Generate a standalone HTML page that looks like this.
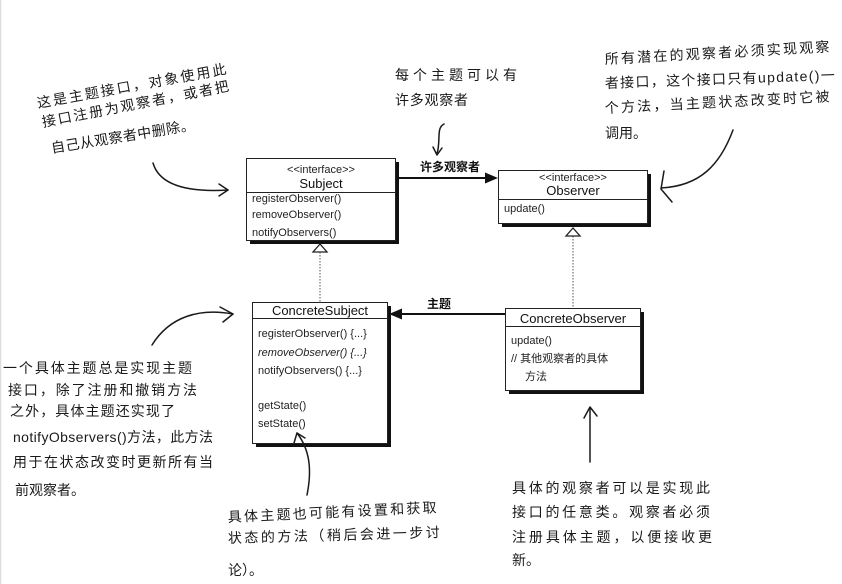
<!DOCTYPE html>
<html><head><meta charset="utf-8">
<style>
html,body{margin:0;padding:0;background:#fff;}
body{width:842px;height:584px;overflow:hidden;position:relative;}
svg{position:absolute;left:0;top:0;}
.u{font-family:"Liberation Sans","Noto Sans CJK SC",sans-serif;font-size:11px;fill:#222;}
.h{font-family:"Liberation Sans","Noto Sans CJK SC",sans-serif;font-size:13px;fill:#111;}
.hw{font-family:"Liberation Sans","WenQuanYi Zen Hei","Noto Sans CJK SC",sans-serif;font-size:14px;fill:#1a1a1a;}
.lb{font-family:"Liberation Sans","Noto Sans CJK SC",sans-serif;font-size:12px;font-weight:bold;fill:#111;}
.ln{fill:none;stroke:#1a1a1a;stroke-width:1.5;stroke-linecap:round;stroke-linejoin:round;}
</style></head>
<body>
<svg width="842" height="584" viewBox="0 0 842 584" xmlns="http://www.w3.org/2000/svg">
<line x1="0.5" y1="0" x2="0.5" y2="584" stroke="#ddd" stroke-width="1.5"/>

<!-- Subject -->
<rect x="250" y="162" width="149" height="82" fill="#111"/>
<rect x="246.5" y="158.5" width="149" height="82" fill="#fff" stroke="#222" stroke-width="1"/>
<line x1="246.5" y1="192.5" x2="395.5" y2="192.5" stroke="#222"/>
<text class="u" x="321" y="173" text-anchor="middle" font-size="10">&lt;&lt;interface&gt;&gt;</text>
<text class="h" x="321" y="188" text-anchor="middle">Subject</text>
<text class="u" x="252" y="202">registerObserver()</text>
<text class="u" x="252" y="218">removeObserver()</text>
<text class="u" x="252" y="236">notifyObservers()</text>

<!-- Observer -->
<rect x="502" y="174" width="149" height="53" fill="#111"/>
<rect x="498.5" y="170.5" width="149" height="53" fill="#fff" stroke="#222" stroke-width="1"/>
<line x1="498.5" y1="199.5" x2="647.5" y2="199.5" stroke="#222"/>
<text class="u" x="573" y="181" text-anchor="middle" font-size="10">&lt;&lt;interface&gt;&gt;</text>
<text class="h" x="573" y="195" text-anchor="middle">Observer</text>
<text class="u" x="504" y="212">update()</text>

<!-- ConcreteSubject -->
<rect x="256" y="306" width="135" height="141" fill="#111"/>
<rect x="252.5" y="302.5" width="135" height="141" fill="#fff" stroke="#222" stroke-width="1"/>
<line x1="252.5" y1="318.5" x2="387.5" y2="318.5" stroke="#222"/>
<text class="h" x="320" y="315" text-anchor="middle" font-size="12">ConcreteSubject</text>
<text class="u" x="258" y="337">registerObserver() {...}</text>
<text class="u" x="258" y="356" font-style="italic">removeObserver() {...}</text>
<text class="u" x="258" y="374">notifyObservers() {...}</text>
<text class="u" x="258" y="409">getState()</text>
<text class="u" x="258" y="427">setState()</text>

<!-- ConcreteObserver -->
<rect x="509" y="312" width="135" height="82" fill="#111"/>
<rect x="505.5" y="308.5" width="135" height="82" fill="#fff" stroke="#222" stroke-width="1"/>
<line x1="505.5" y1="326.5" x2="640.5" y2="326.5" stroke="#222"/>
<text class="h" x="573" y="323" text-anchor="middle" font-size="12">ConcreteObserver</text>
<text class="u" x="511" y="344">update()</text>
<text class="u" x="511" y="362">// 其他观察者的具体</text>
<text class="u" x="525" y="380">方法</text>

<!-- associations -->
<line x1="396" y1="178" x2="488" y2="178" stroke="#111" stroke-width="2"/>
<polygon points="498,178 485,172.5 485,183.5" fill="#111"/>
<text class="lb" x="420" y="171">许多观察者</text>

<line x1="505" y1="314" x2="398" y2="314" stroke="#111" stroke-width="2"/>
<polygon points="389,314 402,308.5 402,319.5" fill="#111"/>
<text class="lb" x="427" y="308">主题</text>

<!-- realizations -->
<line x1="320" y1="252" x2="320" y2="302" stroke="#555" stroke-width="1" stroke-dasharray="1.5,1.5"/>
<polygon points="320,244 313,252 327,252" fill="#fff" stroke="#222" stroke-width="1.3"/>
<line x1="573" y1="236" x2="573" y2="308" stroke="#555" stroke-width="1" stroke-dasharray="1.5,1.5"/>
<polygon points="573,228 566,236 580,236" fill="#fff" stroke="#222" stroke-width="1.3"/>

<!-- annotation 1 -->
<text class="hw" transform="rotate(-10.3 38 108)" x="38" y="108" textLength="192" lengthAdjust="spacing">这是主题接口，对象使用此</text>
<text class="hw" transform="rotate(-11 43 127)" x="43" y="127" textLength="190" lengthAdjust="spacing">接口注册为观察者，或者把</text>
<text class="hw" transform="rotate(-9.3 52 153)" x="52" y="153" textLength="145" lengthAdjust="spacing">自己从观察者中删除。</text>
<path class="ln" d="M153,163 Q162,194 228,190"/>
<path class="ln" d="M219,184 L228,190 L219,196"/>

<!-- annotation 2 -->
<text class="hw" x="395" y="80" textLength="122" lengthAdjust="spacing">每个主题可以有</text>
<text class="hw" x="395" y="105" textLength="73" lengthAdjust="spacing">许多观察者</text>
<path class="ln" d="M444,124 C436,128 441,140 437,154"/>
<path class="ln" d="M433,147 L437,155 L442,148"/>

<!-- annotation 3 -->
<text class="hw" transform="rotate(-3.2 605 64)" x="605" y="64" textLength="225" lengthAdjust="spacing">所有潜在的观察者必须实现观察</text>
<text class="hw" transform="rotate(-2 605 88)" x="605" y="88" textLength="230" lengthAdjust="spacing">者接口，这个接口只有update()一</text>
<text class="hw" transform="rotate(-3 605 113)" x="605" y="113" textLength="225" lengthAdjust="spacing">个方法，当主题状态改变时它被</text>
<text class="hw" x="605" y="138">调用。</text>
<path class="ln" d="M733,130 C720,165 700,186 661,188"/>
<path class="ln" d="M664,171 L661,189 L672,202"/>

<!-- annotation 4 -->
<text class="hw" x="3" y="373" textLength="189" lengthAdjust="spacing">一个具体主题总是实现主题</text>
<text class="hw" x="8" y="395" textLength="189" lengthAdjust="spacing">接口，除了注册和撤销方法</text>
<text class="hw" x="10" y="416" textLength="165" lengthAdjust="spacing">之外，具体主题还实现了</text>
<text class="hw" x="13" y="442" textLength="200" lengthAdjust="spacing">notifyObservers()方法，此方法</text>
<text class="hw" x="13" y="467" textLength="200" lengthAdjust="spacing">用于在状态改变时更新所有当</text>
<text class="hw" x="15" y="495">前观察者。</text>
<path class="ln" d="M152,345 C170,316 200,308 233,314"/>
<path class="ln" d="M220,307 L233,314 L223,322"/>

<!-- annotation 5 -->
<text class="hw" transform="rotate(-2.7 228 522)" x="228" y="522" textLength="209" lengthAdjust="spacing">具体主题也可能有设置和获取</text>
<text class="hw" transform="rotate(-1.6 228 543)" x="228" y="543" textLength="212" lengthAdjust="spacing">状态的方法（稍后会进一步讨</text>
<text class="hw" x="228" y="575">论）。</text>
<path class="ln" d="M307,495 C312,470 310,450 297,433"/>
<path class="ln" d="M294,443 L297,433 L305,438"/>

<!-- annotation 6 -->
<text class="hw" x="512" y="493" textLength="198" lengthAdjust="spacing">具体的观察者可以是实现此</text>
<text class="hw" x="512" y="517" textLength="198" lengthAdjust="spacing">接口的任意类。观察者必须</text>
<text class="hw" x="512" y="542" textLength="200" lengthAdjust="spacing">注册具体主题，以便接收更</text>
<text class="hw" x="512" y="565">新。</text>
<path class="ln" d="M590,462 L590,408"/>
<path class="ln" d="M584,418 L590,407 L597,416"/>
</svg>
</body></html>
